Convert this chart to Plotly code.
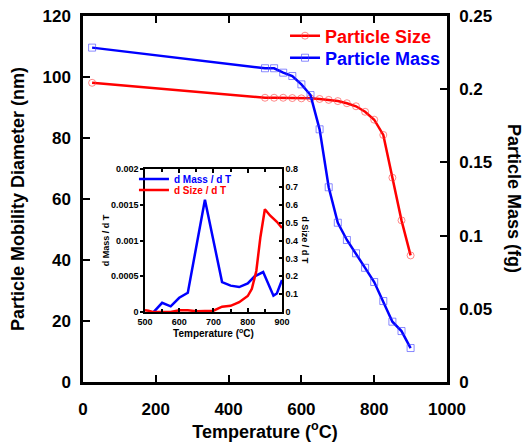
import plotly.graph_objects as go

# ---------------- data ----------------
size_T = [25, 500, 525, 550, 575, 600, 625, 650, 675, 700, 725, 750, 775, 800, 825, 850, 875, 900]
size_nm = [98.1, 93.2, 93.2, 93.2, 93.1, 93.0, 93.0, 92.8, 92.5, 92.1, 91.4, 90.4, 88.6, 86.0, 81.0, 67.0, 53.0, 41.5]

mass_T = [25, 500, 525, 550, 575, 600, 625, 650, 675, 700, 725, 750, 775, 800, 825, 850, 875, 900]
mass_fg = [0.2284, 0.2143, 0.2143, 0.2113, 0.209, 0.2033, 0.196, 0.1726, 0.133, 0.1088,
           0.097, 0.0879, 0.078, 0.0683, 0.0553, 0.0412, 0.0348, 0.0232]

dm_T = [500, 525, 550, 575, 600, 625, 675, 725, 750, 775, 800, 820, 845, 860, 875, 885, 900]
dm_val = [-0.0001, 0.0, 0.00013, 0.00008, 0.0002, 0.00027, 0.00157, 0.00042, 0.00037, 0.00035,
          0.0004, 0.0005, 0.00056, 0.0004, 0.00023, 0.00026, 0.00045]

ds_T = [500, 510, 525, 550, 575, 600, 625, 650, 675, 700, 725, 750, 775, 800, 812, 825, 837, 850, 865, 885, 900]
ds_val = [0.01, 0.008, 0.0, 0.0, 0.0, 0.01, 0.01, 0.005, 0.005, 0.008, 0.03, 0.035, 0.055, 0.09,
          0.13, 0.23, 0.42, 0.575, 0.54, 0.505, 0.47]

main_x_ticks = [0, 200, 400, 600, 800, 1000]
inset_left_tickvals = [0, 0.0005, 0.001, 0.0015, 0.002]
inset_left_ticktext = ["0", "0.0005", "0.001", "0.0015", "0.002"]

RED = "#FF0000"
BLUE = "#0000FF"
FONT = "Liberation Sans, Arial, sans-serif"

fig = go.Figure()

fig.add_trace(go.Scatter(
    x=size_T, y=size_nm, mode="lines+markers",
    name='<span style="color:#FF0000">Particle Size</span>',
    line=dict(color=RED, width=2.5),
    marker=dict(symbol="circle-open", size=7, color="rgba(255,60,60,0.6)", line=dict(width=1)),
    xaxis="x", yaxis="y", legend="legend", showlegend=True))

fig.add_trace(go.Scatter(
    x=mass_T, y=mass_fg, mode="lines+markers",
    name='<span style="color:#0000FF">Particle Mass</span>',
    line=dict(color=BLUE, width=2.5),
    marker=dict(symbol="square-open", size=7, color="rgba(60,60,255,0.6)", line=dict(width=1)),
    xaxis="x", yaxis="y2", legend="legend2", showlegend=True))

fig.add_trace(go.Scatter(
    x=dm_T, y=dm_val, mode="lines",
    name='<span style="color:#0000FF">d Mass / d T</span>',
    line=dict(color=BLUE, width=2.5),
    xaxis="x2", yaxis="y3", legend="legend3", showlegend=True))

fig.add_trace(go.Scatter(
    x=ds_T, y=ds_val, mode="lines",
    name='<span style="color:#FF0000">d Size / d T</span>',
    line=dict(color=RED, width=2.5),
    xaxis="x2", yaxis="y4", legend="legend4", showlegend=True))

axis_common = dict(showgrid=False, zeroline=False, showline=True, linecolor="black",
                   linewidth=2.5, tickcolor="black", automargin=False)

main_leg = dict(xanchor="left", yanchor="middle", bgcolor="rgba(0,0,0,0)",
                font=dict(size=18, weight="bold", family=FONT), itemclick=False, visible=True)
inset_leg = dict(xanchor="left", yanchor="middle", bgcolor="rgba(0,0,0,0)",
                 font=dict(size=10, weight="bold", family=FONT), itemclick=False, visible=True)

fig.update_layout(
    width=524, height=442,
    showlegend=True,
    margin=dict(l=83, r=77, t=16, b=60),
    paper_bgcolor="white", plot_bgcolor="white",
    font=dict(family=FONT, color="black"),
    xaxis=dict(**axis_common, domain=[0, 1], range=[0, 1000], tickvals=main_x_ticks,
               ticks="inside", ticklen=7, tickwidth=2, mirror="ticks",
               ticklabelstandoff=10,
               tickfont=dict(size=17, weight="bold", family=FONT),
               title=dict(text="Temperature (<sup>o</sup>C)", standoff=10,
                          font=dict(size=18, weight="bold", family=FONT))),
    yaxis=dict(**axis_common, range=[0, 120], dtick=20, ticks="inside", ticklen=7, tickwidth=2,
               ticklabelstandoff=6,
               tickfont=dict(size=17, weight="bold", family=FONT),
               title=dict(text="Particle Mobility Diameter (nm)", standoff=14,
                          font=dict(size=18, weight="bold", family=FONT))),
    yaxis2=dict(**axis_common, overlaying="y", side="right", anchor="x", range=[0, 0.25], dtick=0.05,
                ticks="inside", ticklen=7, tickwidth=2, ticklabelstandoff=6,
                tickfont=dict(size=17, weight="bold", family=FONT)),
    xaxis2=dict(showgrid=False, zeroline=False, showline=True, linecolor="black", linewidth=1.5,
                tickcolor="black", automargin=False,
                domain=[0.1703, 0.5467], anchor="y3", range=[500, 900], dtick=100,
                ticks="inside", ticklen=4, tickwidth=1.5, mirror="ticks",
                minor=dict(dtick=50, ticks="inside", ticklen=3, tickcolor="black"),
                tickfont=dict(size=9, weight="bold", family=FONT),
                title=dict(text="Temperature (<sup>o</sup>C)", standoff=2,
                           font=dict(size=10, weight="bold", family=FONT))),
    yaxis3=dict(showgrid=False, zeroline=False, showline=True, linecolor="black", linewidth=1.5,
                tickcolor="black", automargin=False,
                domain=[0.191, 0.582], anchor="x2", range=[0, 0.002],
                tickvals=inset_left_tickvals, ticktext=inset_left_ticktext,
                ticks="outside", ticklen=3, tickwidth=1.5,
                tickfont=dict(size=9, weight="bold", family=FONT),
                title=dict(text="d Mass / d T", standoff=0,
                           font=dict(size=9, weight="bold", family=FONT))),
    yaxis4=dict(showgrid=False, zeroline=False, showline=True, linecolor="black", linewidth=1.5,
                tickcolor="black", automargin=False,
                overlaying="y3", anchor="x2", side="right", range=[0, 0.8], dtick=0.1,
                ticks="inside", ticklen=3, tickwidth=1.5,
                tickfont=dict(size=9, weight="bold", family=FONT)),
    legend=dict(**main_leg, x=0.555, y=0.9454),
    legend2=dict(**main_leg, x=0.555, y=0.8852),
    legend3=dict(**inset_leg, x=0.14, y=0.5546),
    legend4=dict(**inset_leg, x=0.14, y=0.5246),
    annotations=[
        dict(text="Particle Mass (fg)", xref="paper", yref="paper", x=1.184, y=0.5,
             xanchor="center", yanchor="middle",
             textangle=90, showarrow=False, font=dict(size=18, weight="bold", family=FONT)),
        dict(text="d Size / d T", xref="paper", yref="paper", x=0.61, y=0.387,
             xanchor="center", yanchor="middle",
             textangle=90, showarrow=False, font=dict(size=9, weight="bold", family=FONT)),
    ],
)

fig.write_html("out.html", config={"displayModeBar": False},
               post_script="document.body.style.margin='0px';")
